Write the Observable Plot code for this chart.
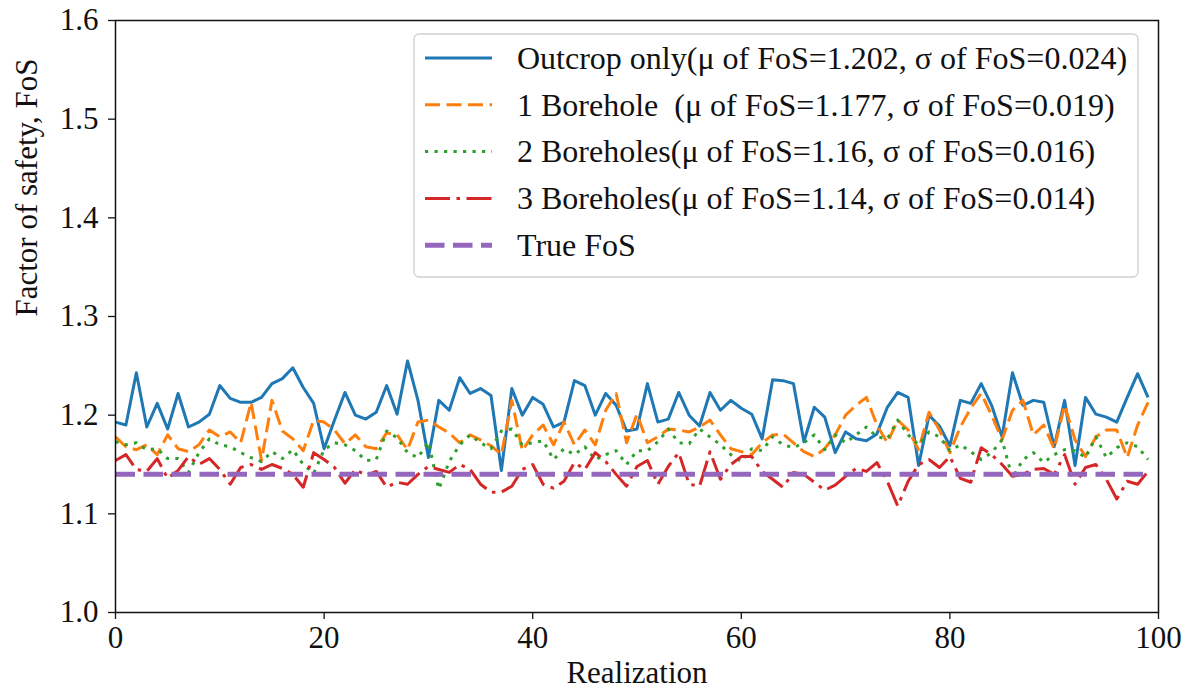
<!DOCTYPE html>
<html><head><meta charset="utf-8">
<script src="https://cdn.jsdelivr.net/npm/d3@7"></script>
<script src="https://cdn.jsdelivr.net/npm/@observablehq/plot@0.6"></script>
<style>body{margin:0;background:#fff} #chart{width:1185px;height:700px}</style>
</head><body><div id="chart"></div>
<script>
// ---------- data ----------
const realization = [0,1,2,3,4,5,6,7,8,9,10,11,12,13,14,15,16,17,18,19,20,21,22,23,24,25,26,27,28,29,30,31,32,33,34,35,36,37,38,39,40,41,42,43,44,45,46,47,48,49,50,51,52,53,54,55,56,57,58,59,60,61,62,63,64,65,66,67,68,69,70,71,72,73,74,75,76,77,78,79,80,81,82,83,84,85,86,87,88,89,90,91,92,93,94,95,96,97,98,99];

const outcropOnly = [1.193,1.190,1.243,1.188,1.212,1.186,1.222,1.188,1.193,1.201,
1.230,1.217,1.213,1.213,1.218,1.232,1.237,1.248,1.228,1.212,
1.166,1.195,1.223,1.200,1.196,1.203,1.230,1.201,1.255,1.215,
1.157,1.215,1.205,1.238,1.222,1.227,1.220,1.144,1.227,1.200,
1.218,1.211,1.188,1.193,1.235,1.230,1.200,1.222,1.210,1.184,
1.186,1.232,1.193,1.196,1.223,1.200,1.189,1.223,1.205,1.215,
1.207,1.201,1.176,1.236,1.235,1.232,1.173,1.208,1.198,1.162,
1.183,1.176,1.174,1.181,1.208,1.223,1.218,1.149,1.200,1.189,
1.169,1.215,1.212,1.232,1.210,1.178,1.243,1.210,1.215,1.213,
1.168,1.215,1.149,1.218,1.201,1.198,1.193,1.218,1.242,1.218];

const oneBorehole = [1.178,1.168,1.165,1.170,1.160,1.180,1.166,1.163,1.170,1.185,
1.178,1.183,1.172,1.213,1.154,1.215,1.184,1.176,1.164,1.195,
1.193,1.185,1.171,1.180,1.168,1.166,1.182,1.180,1.165,1.193,
1.195,1.188,1.182,1.172,1.180,1.175,1.169,1.160,1.215,1.164,
1.180,1.190,1.170,1.193,1.170,1.185,1.170,1.205,1.222,1.172,
1.201,1.172,1.178,1.186,1.185,1.183,1.188,1.195,1.180,1.166,
1.163,1.160,1.172,1.180,1.181,1.172,1.163,1.158,1.166,1.180,
1.200,1.210,1.218,1.190,1.172,1.195,1.185,1.165,1.203,1.185,
1.162,1.188,1.207,1.222,1.200,1.175,1.205,1.215,1.180,1.190,
1.166,1.210,1.175,1.158,1.178,1.185,1.185,1.157,1.190,1.213];

const twoBoreholes = [1.173,1.170,1.172,1.165,1.166,1.156,1.156,1.142,1.162,1.176,
1.170,1.168,1.162,1.157,1.153,1.163,1.156,1.165,1.150,1.141,
1.165,1.172,1.170,1.164,1.154,1.155,1.184,1.177,1.162,1.157,
1.173,1.125,1.153,1.170,1.180,1.172,1.166,1.184,1.186,1.170,
1.172,1.174,1.155,1.166,1.160,1.168,1.155,1.160,1.164,1.150,
1.164,1.164,1.173,1.186,1.172,1.171,1.186,1.178,1.170,1.160,
1.153,1.166,1.164,1.178,1.170,1.167,1.172,1.180,1.165,1.180,
1.172,1.180,1.188,1.178,1.176,1.195,1.180,1.170,1.183,1.178,
1.164,1.170,1.163,1.155,1.162,1.175,1.136,1.155,1.162,1.152,
1.160,1.165,1.164,1.157,1.178,1.157,1.167,1.172,1.168,1.155];

const threeBoreholes = [1.154,1.160,1.145,1.143,1.156,1.136,1.144,1.158,1.150,1.156,
1.145,1.130,1.147,1.150,1.145,1.150,1.146,1.140,1.127,1.162,
1.155,1.147,1.131,1.145,1.139,1.143,1.127,1.132,1.130,1.140,
1.148,1.145,1.142,1.150,1.145,1.130,1.122,1.122,1.128,1.145,
1.150,1.130,1.126,1.133,1.152,1.145,1.162,1.153,1.140,1.128,
1.148,1.154,1.130,1.148,1.162,1.130,1.128,1.163,1.135,1.150,
1.158,1.158,1.143,1.135,1.127,1.142,1.140,1.132,1.124,1.129,
1.138,1.146,1.143,1.152,1.133,1.108,1.133,1.150,1.155,1.147,
1.158,1.136,1.132,1.167,1.160,1.150,1.138,1.140,1.145,1.146,
1.140,1.160,1.130,1.147,1.150,1.135,1.115,1.133,1.130,1.143];

const trueFoSValue = 1.14;

const legendLabels = [
  "Outcrop only(\u03bc of FoS=1.202, \u03c3 of FoS=0.024)",
  "1 Borehole\u00a0\u00a0(\u03bc of FoS=1.177, \u03c3 of FoS=0.019)",
  "2 Boreholes(\u03bc of FoS=1.16, \u03c3 of FoS=0.016)",
  "3 Boreholes(\u03bc of FoS=1.14, \u03c3 of FoS=0.014)",
  "True FoS"
];
const xTicks = [0, 20, 40, 60, 80, 100];
const yTicks = [1.0, 1.1, 1.2, 1.3, 1.4, 1.5, 1.6];
const xLabel = "Realization";
const yLabel = "Factor of safety, FoS";

// ---------- styles ----------
const styles = [
  {color: "#1f77b4", width: 3, dash: null},
  {color: "#ff7f0e", width: 3, dash: "15,6.5"},
  {color: "#2ca02c", width: 3, dash: "3.2,6.3"},
  {color: "#d62728", width: 3, dash: "25,6.5,3.5,6.5"},
  {color: "#9467bd", width: 5, dash: "19.5,8.5"}
];

const seriesValues = [outcropOnly, oneBorehole, twoBoreholes, threeBoreholes,
  realization.map(() => trueFoSValue)];
const tables = seriesValues.map(vals => realization.map((r, i) => ({x: r, y: vals[i]})));

const FONT = "Liberation Serif, Times New Roman, serif";

const lineMarks = tables.map((t, k) => Plot.line(t, {
  x: "x", y: "y", stroke: styles[k].color, strokeWidth: styles[k].width,
  strokeDasharray: styles[k].dash, strokeLinejoin: "round", strokeLinecap: "butt"
}));

const chart = Plot.plot({
  width: 1185, height: 700,
  marginLeft: 115, marginRight: 27, marginTop: 20, marginBottom: 88,
  style: {fontFamily: FONT, fontSize: "31px", color: "#111", background: "#fff", overflow: "visible"},
  x: {domain: [0, 100]},
  y: {domain: [1.0, 1.6]},
  marks: [
    ...lineMarks,
    Plot.frame({stroke: "#111", strokeWidth: 1.5}),
    Plot.axisX({ticks: xTicks, tickSize: 7, tickPadding: 6, fontSize: 31, label: null, tickFormat: d => String(d), stroke: "#111", strokeWidth: 1.3}),
    Plot.axisY({ticks: yTicks, tickSize: 7, tickPadding: 10, fontSize: 31, label: null, tickFormat: d3.format(".1f"), stroke: "#111", strokeWidth: 1.3}),
    Plot.text([xLabel], {frameAnchor: "bottom", dy: 70, fontSize: 31, fill: "#111"}),
    Plot.text([yLabel], {frameAnchor: "left", rotate: -90, dx: -88, fontSize: 31, fill: "#111"})
  ]
});
document.getElementById("chart").appendChild(chart);

// ---------- legend (matplotlib style box, upper right) ----------
const svg = d3.select(chart);
const lg = svg.append("g").attr("font-family", FONT).attr("font-size", 32).attr("text-anchor", "start");
lg.append("rect").attr("x", 414).attr("y", 34).attr("width", 724).attr("height", 243)
  .attr("rx", 5).attr("fill", "white").attr("fill-opacity", 0.85)
  .attr("stroke", "#d0d0d0").attr("stroke-width", 1.3);
legendLabels.forEach((lab, k) => {
  const cy = 58 + k * 46.8;
  lg.append("line").attr("x1", 425).attr("x2", 492).attr("y1", cy).attr("y2", cy)
    .attr("stroke", styles[k].color).attr("stroke-width", styles[k].width)
    .attr("stroke-dasharray", styles[k].dash);
  lg.append("text").attr("x", 517).attr("y", cy).attr("dy", "0.34em")
    .attr("text-anchor", "start").attr("fill", "#111").text(lab);
});
</script>
</body></html>
